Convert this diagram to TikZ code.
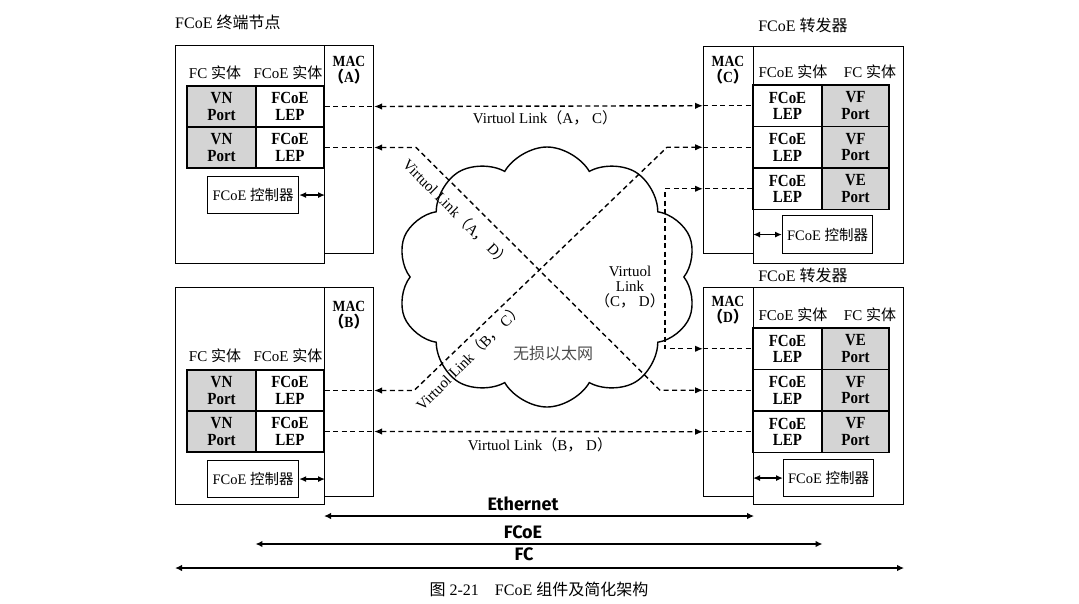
\documentclass[tikz,border=0pt]{standalone}
\usepackage{fontspec}
\setmainfont{Liberation Serif}
\newfontfamily\tall[FakeStretch=0.88]{Liberation Serif}
\newfontfamily\cjk{Noto Sans CJK SC}
\newfontfamily\comic{Fira Sans}
\usetikzlibrary{arrows.meta,shapes.symbols,calc}
\newcommand{\zh}[1]{{\cjk #1}}
\tikzset{
  box/.style={draw, line width=1.1pt, inner sep=0pt, anchor=north west},
  vn/.style={draw, line width=1.1pt, inner sep=0pt, fill=black!17, minimum width=69pt, minimum height=41pt, align=center, font=\tall\fontsize{17}{16.5}\selectfont\bfseries},
  lep/.style={vn, fill=white, minimum width=68pt},
  vnr/.style={vn, minimum width=67pt, minimum height=41.5pt},
  lepr/.style={vn, fill=white, minimum width=69pt, minimum height=41.5pt},
  hdr/.style={font=\fontsize{15}{16}\selectfont, inner sep=0pt},
  mac/.style={align=center, font=\tall\fontsize{15.5}{15.5}\selectfont\bfseries, inner sep=0pt},
  ctl/.style={box, minimum width=91pt, minimum height=37pt, font=\fontsize{14.5}{16}\selectfont},
  dbl/.style={line width=1.4pt, {Latex[length=7pt,width=6pt]}-{Latex[length=7pt,width=6pt]}},
  dsh/.style={line width=1.4pt, dash pattern=on 5pt off 3.5pt},
  vl/.style={dsh, {Latex[length=8pt,width=6.5pt]}-{Latex[length=8pt,width=6.5pt]}},
  vlab/.style={font=\fontsize{15}{15}\selectfont, inner sep=0pt, align=center},
  big/.style={line width=2.2pt, {Latex[length=7pt,width=6.5pt]}-{Latex[length=7pt,width=6.5pt]}},
  bigl/.style={font=\comic\bfseries\fontsize{18}{18}\selectfont, inner sep=0pt}
}
\begin{document}
\begin{tikzpicture}[x=1pt,y=-1pt]
\useasboundingbox (0,0) rectangle (1079,603);

% cloud
\node[cloud, draw, line width=1.4pt, cloud puffs=10, cloud puff arc=120, aspect=1.15, cloud ignores aspect, minimum width=300pt, minimum height=260pt, inner sep=0pt] (net) at (547,277) {};
\node[font=\cjk\fontsize{16}{16}\selectfont, text=black!70, inner sep=0pt] (netl) at (553,353) {无损以太网};

% ---------- Node A ----------
\node[font=\fontsize{16}{16}\selectfont, anchor=west, inner sep=0pt] (Alab) at (175,22) {FCoE \zh{终端节点}};
\node[box, minimum width=149pt, minimum height=218pt] (A) at (175,45) {};
\node[box, minimum width=49pt, minimum height=208pt] (macA) at (324,45) {};
\node[mac] (macAl) at (349,70) {MAC\\\zh{（}A\zh{）}};
\node[hdr] (Ah1) at (215,73) {FC \zh{实体}};
\node[hdr] (Ah2) at (288,73) {FCoE \zh{实体}};
\node[vn] (a1v) at (221.5,106.5) {VN\\Port};
\node[lep] (a1l) at (290,106.5) {FCoE\\LEP};
\node[vn] (a2v) at (221.5,147.5) {VN\\Port};
\node[lep] (a2l) at (290,147.5) {FCoE\\LEP};
\node[ctl] (ctlA) at (207,176) {FCoE \zh{控制器}};
\draw[dbl] (ctlA.east) -- (ctlA.east -| A.east);

% ---------- Node B ----------
\node[box, minimum width=149pt, minimum height=217pt] (B) at (175,287) {};
\node[box, minimum width=49pt, minimum height=209pt] (macB) at (324,287) {};
\node[mac] (macBl) at (349,315) {MAC\\\zh{（}B\zh{）}};
\node[hdr] (Bh1) at (215,356) {FC \zh{实体}};
\node[hdr] (Bh2) at (288,356) {FCoE \zh{实体}};
\node[vn] (b1v) at (221.5,390.5) {VN\\Port};
\node[lep] (b1l) at (290,390.5) {FCoE\\LEP};
\node[vn] (b2v) at (221.5,431.5) {VN\\Port};
\node[lep] (b2l) at (290,431.5) {FCoE\\LEP};
\node[ctl] (ctlB) at (207,460) {FCoE \zh{控制器}};
\draw[dbl] (ctlB.east) -- (ctlB.east -| B.east);

% ---------- Node C ----------
\node[font=\fontsize{16}{16}\selectfont, inner sep=0pt] (Clab) at (803,25) {FCoE \zh{转发器}};
\node[box, minimum width=50pt, minimum height=207pt] (macC) at (703,46) {};
\node[box, minimum width=150pt, minimum height=217pt] (C) at (753,46) {};
\node[mac] (macCl) at (728,70) {MAC\\\zh{（}C\zh{）}};
\node[hdr] (Ch1) at (793,72) {FCoE \zh{实体}};
\node[hdr] (Ch2) at (870,72) {FC \zh{实体}};
\node[lepr] (c1l) at (787.5,105.75) {FCoE\\LEP};
\node[vnr] (c1v) at (855.5,105.75) {VF\\Port};
\node[lepr] (c2l) at (787.5,147.25) {FCoE\\LEP};
\node[vnr] (c2v) at (855.5,147.25) {VF\\Port};
\node[lepr] (c3l) at (787.5,188.75) {FCoE\\LEP};
\node[vnr] (c3v) at (855.5,188.75) {VE\\Port};
\node[ctl, minimum width=90pt, minimum height=38pt] (ctlC) at (782,215) {FCoE \zh{控制器}};
\draw[dbl] (ctlC.west -| C.west) -- (ctlC.west);

% ---------- Node D ----------
\node[font=\fontsize{16}{16}\selectfont, inner sep=0pt] (Dlab) at (803,275) {FCoE \zh{转发器}};
\node[box, minimum width=50pt, minimum height=209pt] (macD) at (703,287) {};
\node[box, minimum width=150pt, minimum height=217pt] (D) at (753,287) {};
\node[mac] (macDl) at (728,310) {MAC\\\zh{（}D\zh{）}};
\node[hdr] (Dh1) at (793,315) {FCoE \zh{实体}};
\node[hdr] (Dh2) at (870,315) {FC \zh{实体}};
\node[lepr] (d1l) at (787.5,348.75) {FCoE\\LEP};
\node[vnr] (d1v) at (855.5,348.75) {VE\\Port};
\node[lepr] (d2l) at (787.5,390.25) {FCoE\\LEP};
\node[vnr] (d2v) at (855.5,390.25) {VF\\Port};
\node[lepr] (d3l) at (787.5,431.75) {FCoE\\LEP};
\node[vnr] (d3v) at (855.5,431.75) {VF\\Port};
\node[ctl, minimum width=90pt] (ctlD) at (783,459) {FCoE \zh{控制器}};
\draw[dbl] (ctlD.west -| D.west) -- (ctlD.west);

% ---------- Virtual links ----------
% A-C
\draw[dsh] (a1l.east) -- (a1l.east -| macA.east);
\draw[vl] (a1l.east -| macA.east) -- (c1l.west -| macC.west);
\draw[dsh] (c1l.west -| macC.west) -- (c1l.west);
\node[vlab] (lAC) at (545,118) {Virtuol Link\zh{（}A\zh{，} C\zh{）}};
% A-D
\draw[dsh] (a2l.east) -- (a2l.east -| macA.east);
\draw[vl] (a2l.east -| macA.east) -- ++(42,0) -- ($(d2l.west -| macD.west)+(-43,0)$) -- (d2l.west -| macD.west);
\draw[dsh] (d2l.west -| macD.west) -- (d2l.west);
\node[vlab, rotate=-45] (lAD) at (457,213) {Virtuol Link\zh{（}A\zh{，} D\zh{）}};
% B-C
\draw[dsh] (b1l.east) -- (b1l.east -| macB.east);
\draw[vl] (b1l.east -| macB.east) -- ++(40,0) -- ($(c2l.west -| macC.west)+(-36,0)$) -- (c2l.west -| macC.west);
\draw[dsh] (c2l.west -| macC.west) -- (c2l.west);
\node[vlab, rotate=45] (lBC) at (469,357) {Virtuol Link\zh{（}B\zh{，} C\zh{）}};
% C-D
\draw[dsh] (c3l.west) -- (c3l.west -| macC.west);
\draw[vl] (c3l.west -| macC.west) -- ++(-38,0) |- (d1l.west -| macD.west);
\draw[dsh] (d1l.west -| macD.west) -- (d1l.west);
\node[vlab] (lCD) at (630,287) {Virtuol\\Link\\\zh{（}C\zh{，} D\zh{）}};
% B-D
\draw[dsh] (b2l.east) -- (b2l.east -| macB.east);
\draw[vl] (b2l.east -| macB.east) -- (d3l.west -| macD.west);
\draw[dsh] (d3l.west -| macD.west) -- (d3l.west);
\node[vlab] (lBD) at (540,445) {Virtuol Link\zh{（}B\zh{，} D\zh{）}};

% ---------- Bottom layers ----------
\coordinate (eth) at (540,516);
\coordinate (fcoe) at (540,544);
\coordinate (fc) at (540,568);
\draw[big] (eth -| macB.west) -- (eth -| macC.east);
\node[bigl] (ethl) at (523,504) {Ethernet};
\draw[big] (fcoe -| b1l.west) -- (fcoe -| d1l.east);
\node[bigl] (fcoel) at (523,532) {FCoE};
\draw[big] (fc -| B.west) -- (fc -| D.east);
\node[bigl] (fcl) at (524,554) {FC};

\node[font=\fontsize{16}{16}\selectfont, inner sep=0pt] (cap) at (539,589) {\zh{图} 2-21\quad FCoE \zh{组件及简化架构}};
\end{tikzpicture}
\end{document}
